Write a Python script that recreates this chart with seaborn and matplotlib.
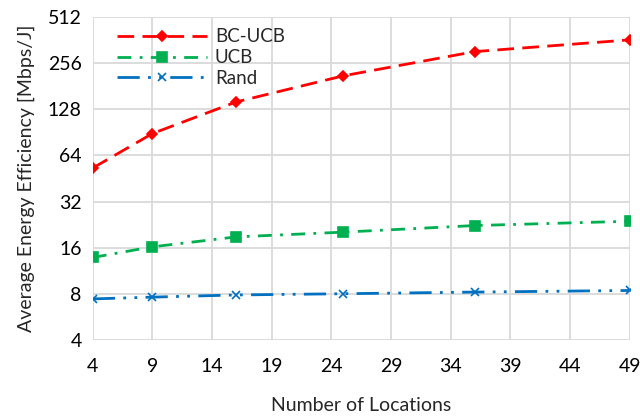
import matplotlib
matplotlib.use("Agg")
import matplotlib.pyplot as plt
import seaborn as sns
import pandas as pd

locations = [4, 9, 16, 25, 36, 49]
bc_ucb = [53, 89, 143, 212, 305, 364]
ucb = [13.8, 16.2, 18.8, 20.2, 22.3, 23.8]
rand = [7.4, 7.6, 7.85, 8.0, 8.2, 8.4]
x_ticks = list(range(4, 50, 5))
y_ticks = [4, 8, 16, 32, 64, 128, 256, 512]

sns.set_theme(style="white")
plt.rcParams['font.family'] = ['Lato', 'DejaVu Sans']

df = pd.DataFrame({
    "x": locations * 3,
    "y": bc_ucb + ucb + rand,
    "series": ["BC-UCB"] * 6 + ["UCB"] * 6 + ["Rand"] * 6,
})

fig = plt.figure(figsize=(6.4, 4.19), dpi=100)
ax = fig.add_axes([0.145, 0.189, 0.839, 0.770])

styles = {
    "BC-UCB": dict(color="#ff0000", marker="D", ms=5, dashes=(6, 3)),
    "UCB": dict(color="#00b050", marker="s", ms=6.5, dashes=(5, 3, 1, 3)),
    "Rand": dict(color="#0070c0", marker="x", ms=5.5, dashes=(8, 3, 1, 3, 1, 3)),
}
for name in ["BC-UCB", "UCB", "Rand"]:
    st = styles[name]
    sub = df[df.series == name]
    sns.lineplot(data=sub, x="x", y="y", ax=ax, color=st["color"], lw=2,
                 marker=st["marker"], markersize=st["ms"], markeredgecolor=st["color"],
                 markeredgewidth=1.2, dashes=False, label=name)
    ax.lines[-1].set_dashes(st["dashes"])

ax.set_yscale("log", base=2)
ax.set_ylim(4, 512)
ax.set_xlim(4, 49)
ax.set_yticks(y_ticks)
ax.set_yticklabels([str(v) for v in y_ticks])
ax.set_xticks(x_ticks)
ax.set_xticklabels([str(v) for v in x_ticks])
ax.minorticks_off()
ax.grid(True, color="#d9d9d9", lw=1.3)
for s in ax.spines.values():
    s.set_visible(False)
ax.tick_params(axis="x", pad=13, labelsize=14, length=0, colors="#000000")
ax.tick_params(axis="y", pad=8, labelsize=14, length=0, colors="#000000")
ax.set_xlabel("Number of Locations", fontsize=14, labelpad=16)
ax.set_ylabel("Average Energy Efficiency [Mbps/J]", fontsize=14, labelpad=9)

leg = ax.legend(loc="upper left", bbox_to_anchor=(0.025, 1.0), frameon=False,
                fontsize=13.5, handlelength=4.8, handletextpad=0.4, labelspacing=0.2,
                borderaxespad=0.2)
for h, name in zip(leg.get_lines(), ["BC-UCB", "UCB", "Rand"]):
    h.set_dashes(styles[name]["dashes"])

fig.savefig("out.png", dpi=100)
